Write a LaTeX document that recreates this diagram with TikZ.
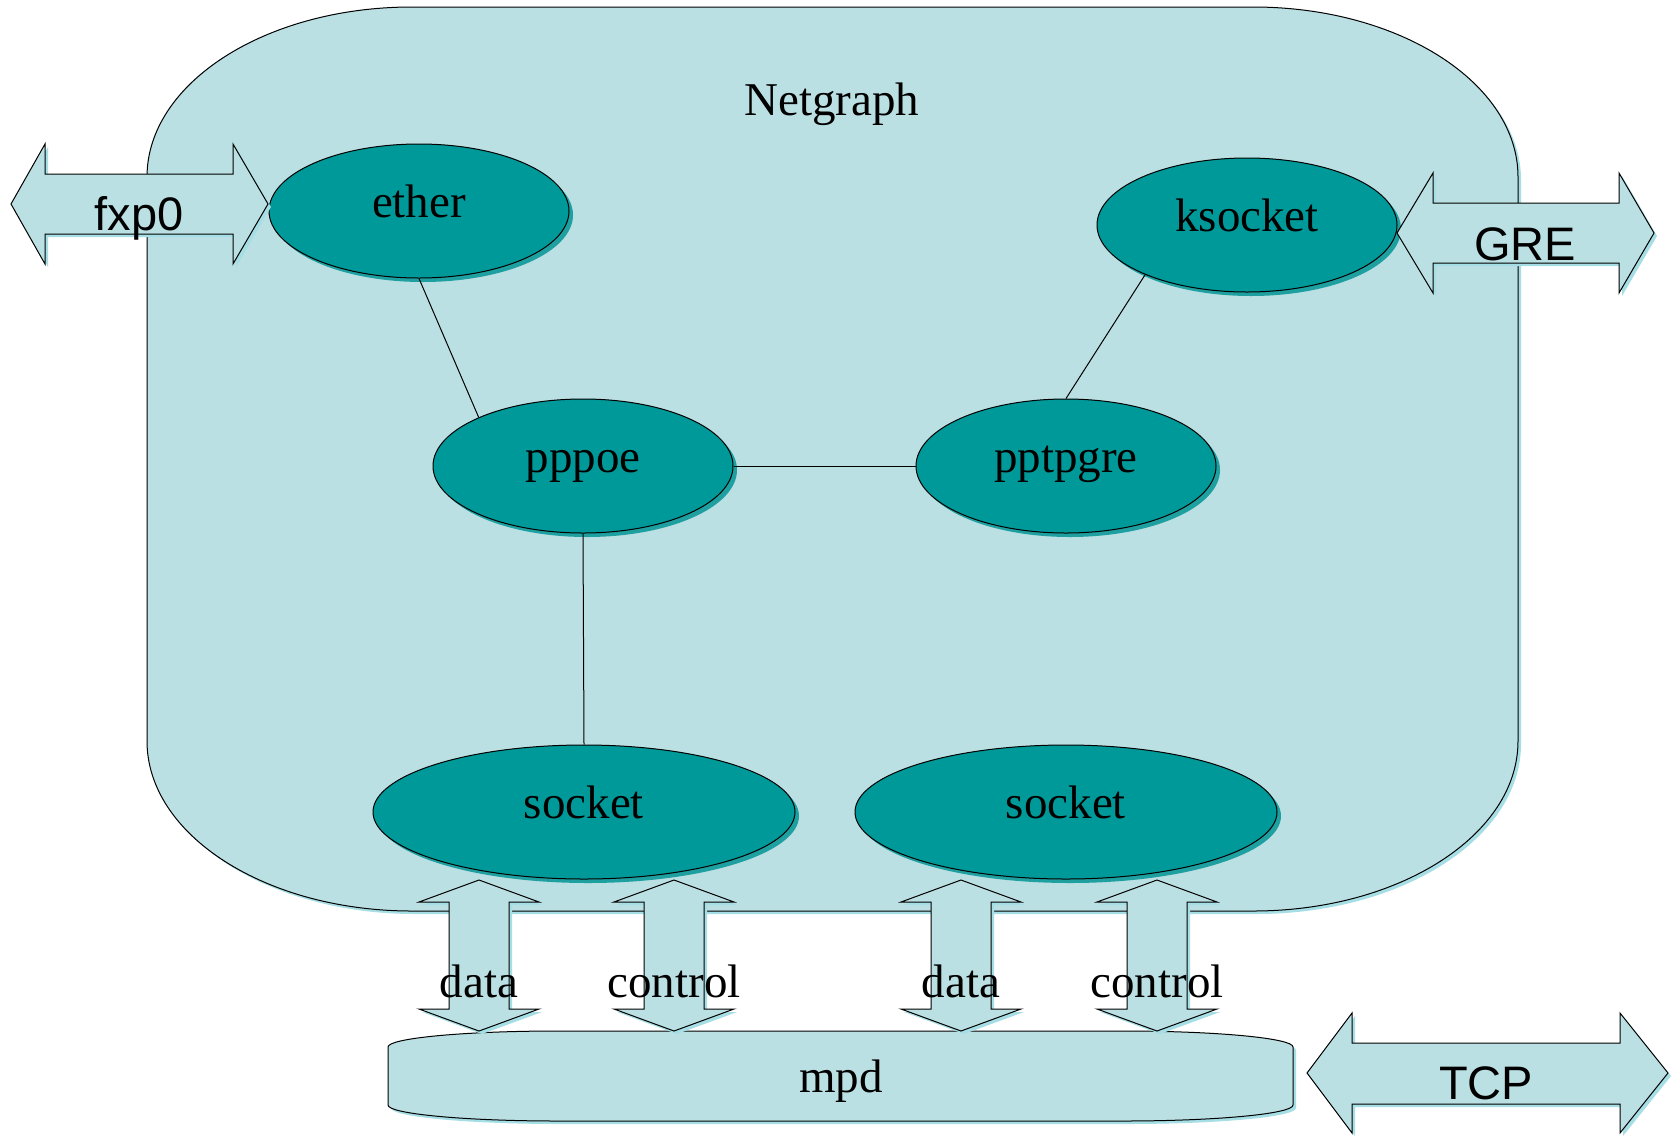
\documentclass[tikz,border=0pt]{standalone}
\usepackage{fontspec}
\setmainfont{Liberation Serif}
\setsansfont{Liberation Sans}
\usetikzlibrary{shapes.geometric,shadows}
\definecolor{paleblue}{RGB}{187,224,227}
\definecolor{nodeteal}{RGB}{0,153,153}
\definecolor{tealshade}{RGB}{30,160,160}
\definecolor{rimshade}{RGB}{165,222,228}

\begin{document}
\begin{tikzpicture}[x=0.5pt,y=-0.5pt,
  every node/.style={font=\fontsize{23.5}{28}\selectfont, text height=0.7em, text depth=0.03em, inner sep=0pt},
  ngnode/.style={ellipse, draw, line width=0.5pt, fill=nodeteal,
    minimum width=150pt, minimum height=67pt,
    drop shadow={shadow xshift=2pt, shadow yshift=-2pt, fill=tealshade, opacity=1}},
  widenode/.style={ngnode, minimum width=211pt},
  link/.style={line width=0.5pt},
  flow/.style={draw, line width=0.5pt, fill=paleblue, line join=miter,
    drop shadow={shadow xshift=1.5pt, shadow yshift=-1.5pt, fill=rimshade, opacity=1}},
  sanslabel/.style={font=\sffamily\fontsize{23.5}{28}\selectfont}
]
\path[fill=white] (0,0) rectangle (1675,1136);
\useasboundingbox (0,0) rectangle (1675,1136);

% Netgraph domain
\draw[flow] (412,7) -- (1253,7)
  .. controls (1399.4,7) and (1518,83.1) .. (1518,177) -- (1518,741)
  .. controls (1518,834.9) and (1399.4,911) .. (1253,911) -- (412,911)
  .. controls (265.6,911) and (147,834.9) .. (147,741) -- (147,177)
  .. controls (147,83.1) and (265.6,7) .. (412,7) -- cycle;
\node (netgraph) at (832,109) {Netgraph};

% netgraph nodes
\node[ngnode] (ether) at (419,211) {ether};
\node[ngnode] (ksocket) at (1247,225) {ksocket};
\node[ngnode] (pppoe) at (583,466) {pppoe};
\node[ngnode] (pptpgre) at (1066,466) {pptpgre};
\node[widenode] (sock1) at (584,812) {socket};
\node[widenode] (sock2) at (1066,812) {socket};

% hooks between nodes
\draw[link] (ether.south) -- (pppoe.155);
\draw[link] (ksocket.206) -- (pptpgre.north);
\draw[link] (pppoe.east) -- (pptpgre.west);
\draw[link] (pppoe.south) -- (sock1.north);

% external interfaces
\draw[flow] (11,204) -- (45,144) -- (45,174) -- (233,174) -- (233,144) -- (268,204)
  -- (233,264) -- (233,234) -- (45,234) -- (45,264) -- cycle;
\node[sanslabel] (fxp) at (139,224) {fxp0};

\draw[flow] (1397,233) -- (1433,173) -- (1433,203) -- (1619,203) -- (1619,173) -- (1654,233)
  -- (1619,293) -- (1619,263) -- (1433,263) -- (1433,293) -- cycle;
\node[sanslabel] (gre) at (1525,254) {GRE};

% mpd daemon
\draw[flow] (558,1031) -- (1123,1031)
  .. controls (1216.9,1031) and (1293,1038.2) .. (1293,1047) -- (1293,1105)
  .. controls (1293,1113.8) and (1216.9,1121) .. (1123,1121) -- (558,1121)
  .. controls (464.1,1121) and (388,1113.8) .. (388,1105) -- (388,1047)
  .. controls (388,1038.2) and (464.1,1031) .. (558,1031) -- cycle;
\node (mpd) at (841,1086) {mpd};

\draw[flow] (1307,1073) -- (1352,1013) -- (1352,1043) -- (1620,1043) -- (1620,1013) -- (1668,1073)
  -- (1620,1133) -- (1620,1104) -- (1352,1104) -- (1352,1133) -- cycle;
\node[sanslabel] (tcp) at (1486,1093) {TCP};

% socket hooks towards mpd
\foreach \cx in {479,674,961,1157}{
  \draw[flow] (\cx,880) -- ({\cx+60},902) -- ({\cx+30},902) -- ({\cx+30},1009) -- ({\cx+60},1009)
    -- (\cx,1031) -- ({\cx-60},1009) -- ({\cx-30},1009) -- ({\cx-30},902) -- ({\cx-60},902) -- cycle;
}
\node (data1) at (479,991) {data};
\node (ctrl1) at (674,991) {control};
\node (data2) at (961,991) {data};
\node (ctrl2) at (1157,991) {control};
\end{tikzpicture}
\end{document}
